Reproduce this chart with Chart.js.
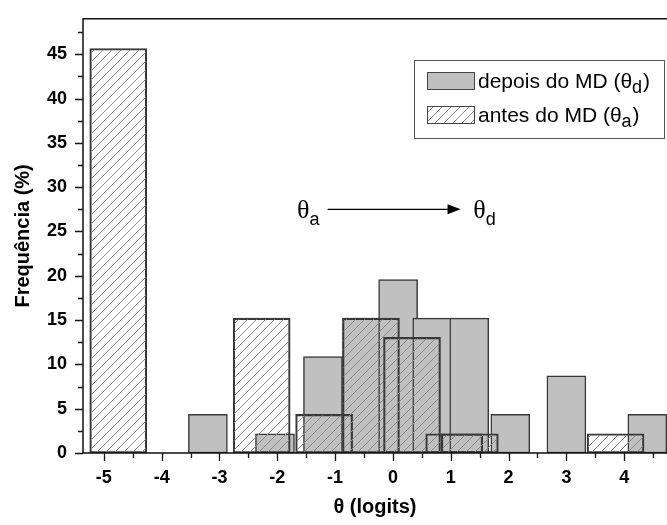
<!DOCTYPE html>
<html>
<head>
<meta charset="utf-8">
<script src="https://cdn.jsdelivr.net/npm/chart.js@4.4.1/dist/chart.umd.min.js"></script>
<style>
    html, body { margin: 0; padding: 0; background: #fff; }
</style>
</head>
<body>
<canvas id="theta-chart" width="667" height="525"></canvas>
<script>
// Distribution of theta (logits) before / after MD, in percent

// depois do MD (gray bars)
const depoisX = [-3.20, -2.04, -1.21, -0.53, 0.09, 0.68, 1.32, 2.03, 3.00, 4.40];
const depoisY = [4.35, 2.17, 10.87, 15.22, 19.57, 15.22, 15.22, 4.35, 8.70, 4.35];

// antes do MD (hatched bars)
const antesX = [-4.75, -2.27, -1.19, -0.38, 0.33, 1.06, 1.33, 3.85];
const antesY = [45.65, 15.22, 4.35, 15.22, 13.04, 2.17, 2.17, 2.17];

// axis ranges
const xRange = [-5.36, 4.74];
const yRange = [0, 49];

const legendLabels = ['depois do MD', 'antes do MD'];
const legendSubs = ['d', 'a'];

/**
 * Diagonal hatch used for the "antes" bars
 */
function makeHatch() {
    const c = document.createElement('canvas');
    c.width = 9;
    c.height = 9;
    const g = c.getContext('2d');
    g.strokeStyle = '#8a8a8a';
    g.lineWidth = 1;
    g.beginPath();
    g.moveTo(0, 9); g.lineTo(9, 0);
    g.moveTo(-1, 1); g.lineTo(1, -1);
    g.moveTo(8, 10); g.lineTo(10, 8);
    g.stroke();
    return g.createPattern(c, 'repeat');
}

const hatch = makeHatch();

// θ followed by a subscript letter, returns the width drawn
function drawTheta(ctx, x, y, sub, size, serif, subScale) {
    ctx.textAlign = 'left';
    ctx.textBaseline = 'alphabetic';
    ctx.font = size + 'px ' + (serif ? '"Liberation Serif"' : '"Liberation Sans"');
    ctx.fillText('θ', x, y);
    const w = ctx.measureText('θ').width;
    const subSize = Math.round(size * subScale);
    ctx.font = subSize + 'px "Liberation Sans"';
    ctx.fillText(sub, x + w, y + size * 0.25);
    return w + ctx.measureText(sub).width;
}

// frame, tick marks, legend box and the θa -> θd arrow
const decorPlugin = {
    id: 'decor',
    afterDraw(chart) {
        const {ctx, chartArea: a, scales} = chart;
        const xs = scales.x;
        const ys = scales.y;
        ctx.save();

        // frame
        ctx.strokeStyle = '#111';
        ctx.lineWidth = 1.5;
        ctx.beginPath();
        ctx.moveTo(a.right, a.top);
        ctx.lineTo(a.left, a.top);
        ctx.lineTo(a.left, a.bottom);
        ctx.lineTo(a.right, a.bottom);
        ctx.stroke();

        // ticks, long on labelled values
        ctx.lineWidth = 1.3;
        ctx.beginPath();
        xs.ticks.forEach(t => {
            const px = Math.round(xs.getPixelForValue(t.value)) + 0.5;
            const len = Number.isInteger(t.value) ? 8 : 5;
            ctx.moveTo(px, a.bottom);
            ctx.lineTo(px, a.bottom + len);
        });
        ys.ticks.forEach(t => {
            const py = Math.round(ys.getPixelForValue(t.value)) + 0.5;
            const len = t.value % 5 === 0 ? 8 : 5;
            ctx.moveTo(a.left, py);
            ctx.lineTo(a.left - len, py);
        });
        ctx.stroke();

        // legend
        const lx = 414, ly = 60, lw = 250, lh = 78;
        ctx.strokeStyle = '#555';
        ctx.lineWidth = 1;
        ctx.fillStyle = '#fff';
        ctx.fillRect(lx, ly, lw, lh);
        ctx.strokeRect(lx + 0.5, ly + 0.5, lw, lh);

        const rows = [ly + 12, ly + 46];
        const fills = ['#c0c0c0', hatch];
        rows.forEach((ry, i) => {
            ctx.fillStyle = '#fff';
            ctx.fillRect(lx + 13, ry, 47, 17);
            ctx.fillStyle = fills[i];
            ctx.fillRect(lx + 13, ry, 47, 17);
            ctx.strokeStyle = '#444';
            ctx.strokeRect(lx + 13.5, ry + 0.5, 47, 17);

            ctx.fillStyle = '#000';
            ctx.font = '21px "Liberation Sans"';
            ctx.textAlign = 'left';
            ctx.textBaseline = 'alphabetic';
            const base = ry + 16;
            let tx = lx + 64;
            const head = legendLabels[i] + ' (';
            ctx.fillText(head, tx, base);
            tx += ctx.measureText(head).width;
            tx += drawTheta(ctx, tx, base, legendSubs[i], 21, false, 0.85);
            ctx.font = '21px "Liberation Sans"';
            ctx.fillText(')', tx + 1, base);
        });

        // θa -> θd arrow
        const y0 = ys.getPixelForValue(27.5);
        const x0 = xs.getPixelForValue(-1.13);
        const x1 = xs.getPixelForValue(1.17);
        ctx.strokeStyle = '#000';
        ctx.lineWidth = 1.2;
        ctx.beginPath();
        ctx.moveTo(x0, y0);
        ctx.lineTo(x1 - 10, y0);
        ctx.stroke();
        ctx.fillStyle = '#000';
        ctx.beginPath();
        ctx.moveTo(x1, y0);
        ctx.lineTo(x1 - 13, y0 - 5);
        ctx.lineTo(x1 - 13, y0 + 5);
        ctx.closePath();
        ctx.fill();

        drawTheta(ctx, xs.getPixelForValue(-1.66), y0 + 9, 'a', 26, true, 0.7);
        drawTheta(ctx, xs.getPixelForValue(1.39), y0 + 9, 'd', 26, true, 0.7);

        ctx.restore();
    }
};

const tickFont = { family: '"Liberation Sans"', size: 18, weight: 'bold' };
const titleFont = { family: '"Liberation Sans"', size: 20, weight: 'bold' };

const ctx = document.getElementById('theta-chart').getContext('2d');
const thetaChart = new Chart(ctx, {
    type: 'bar',
    data: {
        datasets: [{
            label: legendLabels[0],
            data: depoisX.map((x, i) => ({ x: x, y: depoisY[i] })),
            backgroundColor: '#c0c0c0',
            borderColor: '#383838',
            borderWidth: 1.5,
            borderSkipped: false,
            barThickness: 39,
            grouped: false,
            order: 2
        }, {
            label: legendLabels[1],
            data: antesX.map((x, i) => ({ x: x, y: antesY[i] })),
            backgroundColor: hatch,
            borderColor: '#383838',
            borderWidth: 1.5,
            borderSkipped: false,
            barThickness: 57,
            grouped: false,
            order: 1
        }]
    },
    options: {
        responsive: false,
        animation: false,
        layout: {
            padding: { top: 13, right: 0, left: 0, bottom: 0 }
        },
        plugins: {
            legend: { display: false },
            tooltip: { enabled: false }
        },
        scales: {
            x: {
                type: 'linear',
                offset: false,
                min: xRange[0],
                max: xRange[1],
                grid: { display: false, offset: false, tickLength: 8 },
                border: { display: false },
                ticks: {
                    stepSize: 0.5,
                    includeBounds: false,
                    autoSkip: false,
                    maxRotation: 0,
                    padding: 6,
                    color: '#000',
                    font: tickFont,
                    callback: v => Number.isInteger(v) ? String(v) : ''
                },
                title: {
                    display: true,
                    text: 'θ (logits)',
                    color: '#000',
                    font: titleFont,
                    padding: { top: 0, bottom: 6 }
                },
                afterFit: s => { s.height = 72; }
            },
            y: {
                min: yRange[0],
                max: yRange[1],
                grid: { display: false, tickLength: 8 },
                border: { display: false },
                ticks: {
                    stepSize: 2.5,
                    includeBounds: false,
                    autoSkip: false,
                    padding: 8,
                    color: '#000',
                    font: tickFont,
                    callback: v => v % 5 === 0 ? String(v) : ''
                },
                title: {
                    display: true,
                    text: 'Frequência (%)',
                    color: '#000',
                    font: titleFont,
                    padding: { top: 11, bottom: 0 }
                },
                afterFit: s => { s.width = 83; }
            }
        }
    },
    plugins: [decorPlugin]
});
</script>
</body>
</html>
